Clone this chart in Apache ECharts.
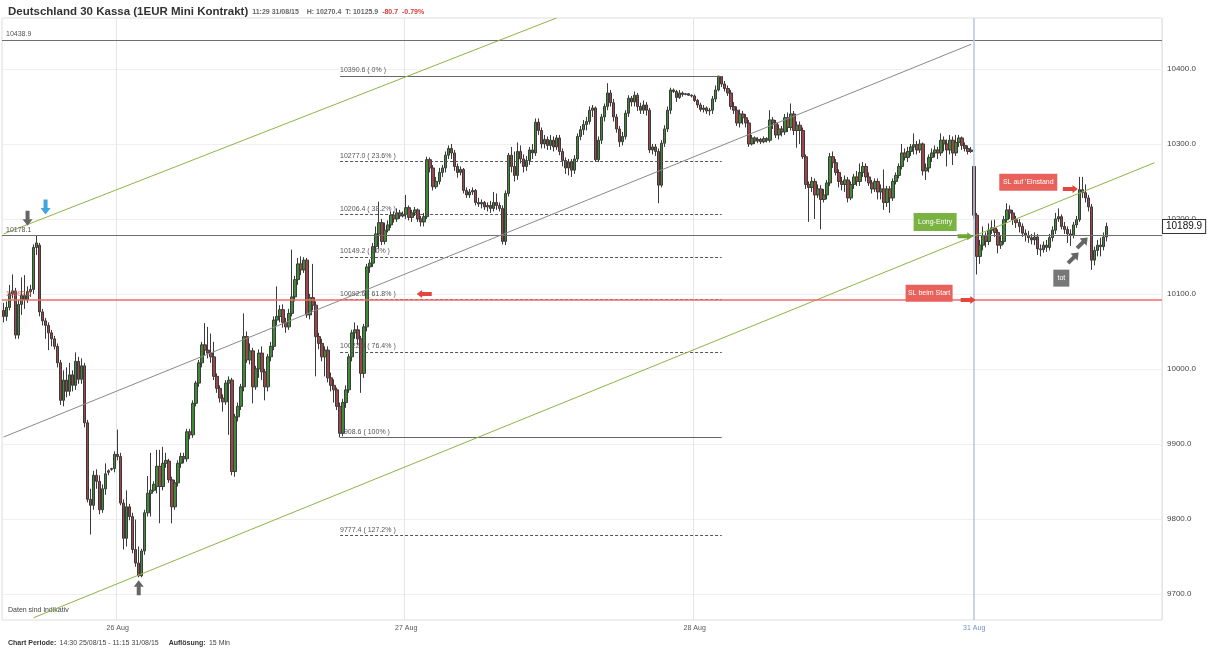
<!DOCTYPE html>
<html><head><meta charset="utf-8">
<script src="https://cdn.jsdelivr.net/npm/echarts@6/dist/echarts.min.js"></script>
<style>html,body{margin:0;padding:0;background:#fff}#c{width:1210px;height:650px}</style>
</head><body><div id="c"></div>
<script>
// [open, close, low, high] per 15-minute candle
const aug25 = [
[10078,10070,10062,10088],[10070,10082,10064,10090],[10082,10100,10078,10112],[10100,10104,10094,10126],[10104,10045,10040,10108],
[10045,10086,10040,10092],[10086,10098,10072,10122],[10098,10092,10080,10125],[10092,10103,10088,10110],[10103,10106,10096,10112],
[10106,10162,10100,10166],[10162,10168,10152,10178.1],[10165,10076,10070,10168],[10076,10064,10058,10080],[10064,10058,10040,10068],
[10058,10048,10025,10062],[10048,10040,10030,10052],[10040,10030,10026,10044],[10030,10008,10002,10034],[10008,9958,9952,10012],
[9958,9985,9950,9998],[9985,9970,9962,10002],[9970,9992,9964,10008],[9992,9978,9970,9998],[9978,10010,9972,10022],
[10010,9986,9980,10016],[9986,10004,9980,10014],[10004,9928,9922,10008],[9928,9826,9822,9932],[9826,9818,9779,9840],
[9818,9858,9812,9864],[9858,9850,9840,9866],[9850,9812,9806,9858],[9812,9840,9808,9846],[9840,9860,9832,9874],
[9862,9864,9858,9866],[9866,9867,9864,9868],[9867,9886,9862,9890]
];
const aug26 = [
[9886,9883,9878,9919],[9883,9821,9818,9888],[9821,9774,9759,9826],[9774,9816,9763,9838],[9816,9803,9798,9820],
[9803,9759,9754,9808],[9759,9741,9736,9799],[9741,9724,9722,9763],[9724,9757,9722,9760],[9757,9808,9752,9812],
[9808,9834,9803,9857],[9834,9838,9803,9888],[9838,9846,9836,9850],[9843,9870,9834,9892],[9870,9843,9794,9892],
[9843,9874,9838,9896],[9874,9878,9868,9888],[9877,9852,9848,9880],[9852,9816,9794,9856],[9816,9848,9812,9852],
[9848,9874,9843,9878],[9874,9883,9868,9888],[9883,9880,9874,9888],[9880,9916,9876,9920],[9916,9912,9906,9920],
[9912,9954,9908,9958],[9954,9981,9950,9984],[9981,10008,9976,10012],[10008,10032,10002,10036],[10032,10025,10018,10061],
[10025,10021,10014,10056],[10021,10016,10008,10047],[10016,9990,9985,10036],[9990,9974,9968,9994],[9974,9961,9955,9978],
[9961,9956,9943,9966],[9956,9981,9952,9985],[9981,9985,9912,9990],[9985,9863,9858,9988],[9863,9936,9856,9940],
[9936,9950,9930,9955],[9950,9976,9945,9980],[9976,10043,9970,10074],[10043,10012,10008,10050],[10012,10024,10006,10034],
[10024,9976,9954,10028],[9976,10000,9972,10004],[10000,10021,9988,10026],[10021,9996,9985,10030],[9996,9976,9958,10000],
[9976,10016,9970,10020],[10016,10030,10010,10036],[10030,10065,10025,10070],[10065,10070,10058,10110],[10070,10079,10062,10085],
[10079,10062,10055,10086],[10062,10056,10048,10068],[10056,10074,10052,10080],[10074,10096,10070,10159],[10096,10119,10090,10124],
[10119,10140,10112,10148],[10140,10132,10125,10150],[10132,10145,10128,10149],[10145,10072,10068,10148],[10072,10095,10066,10100],
[10095,10085,10078,10140],[10085,10043,9990,10090],[10043,10034,10026,10048],[10034,10016,10010,10040],[10016,10025,9990,10030],
[10025,9988,9982,10030],[9988,9978,9970,9995],[9978,9972,9955,9986],[9972,9950,9945,9975],[9950,9914,9908.6,9955],
[9914,9955,9910,9960],[9955,9972,9948,9978],[9972,10016,9968,10020],[10016,10048,10010,10052],[10048,10052,10040,10062],
[10052,10040,10032,10058],[10040,9994,9968,10044],[9994,10056,9988,10060],[10056,10136,10050,10140],[10136,10141,10128,10146],
[10141,10163,10136,10168],[10163,10180,10155,10190],[10180,10195,10160,10223],[10195,10170,10165,10200],[10170,10185,10166,10195],
[10185,10192,10182,10198],[10192,10205,10188,10210],[10205,10200,10195,10210],[10200,10208,10196,10214],[10208,10204,10200,10212],
[10204,10206,10202,10210]
];
const aug27 = [
[10206,10215,10200,10232],[10215,10202,10198,10218],[10202,10208,10196,10212],[10208,10212,10204,10216],[10212,10200,10196,10214],
[10200,10196,10190,10204],[10196,10203,10190,10208],[10203,10279,10200,10283],[10279,10268,10262,10282],[10268,10243,10238,10272],
[10243,10250,10240,10256],[10250,10262,10246,10268],[10262,10268,10256,10272],[10268,10285,10262,10290],[10285,10294,10280,10298],
[10294,10288,10280,10300],[10288,10270,10264,10292],[10270,10262,10255,10274],[10262,10266,10258,10270],[10266,10238,10234,10268],
[10238,10232,10228,10242],[10232,10236,10228,10240],[10236,10238,10232,10242],[10238,10222,10218,10240],[10222,10220,10216,10228],
[10220,10222,10214,10226],[10222,10216,10212,10224],[10216,10218,10210,10222],[10218,10214,10208,10224],[10214,10222,10210,10236],
[10222,10218,10212,10234],[10218,10214,10210,10222],[10214,10170,10166,10218],[10170,10234,10165,10238],[10234,10285,10230,10288],
[10285,10270,10262,10296],[10270,10258,10250,10290],[10258,10290,10252,10302],[10290,10280,10274,10298],[10280,10270,10262,10286],
[10270,10278,10264,10284],[10278,10292,10272,10296],[10292,10288,10280,10300],[10288,10329,10284,10334],[10329,10318,10312,10334],
[10318,10300,10294,10322],[10300,10306,10294,10312],[10306,10298,10292,10310],[10298,10305,10292,10312],[10305,10296,10290,10310],
[10296,10308,10292,10312],[10308,10290,10285,10312],[10290,10278,10270,10294],[10278,10268,10260,10282],[10268,10276,10258,10280],
[10276,10265,10256,10280],[10265,10280,10260,10285],[10280,10310,10276,10314],[10310,10319,10305,10324],[10319,10326,10312,10332],
[10326,10330,10318,10336],[10330,10345,10326,10350],[10345,10348,10336,10352],[10348,10279,10276,10350],[10279,10305,10276,10310],
[10305,10336,10300,10340],[10336,10350,10330,10354],[10350,10368,10345,10381],[10368,10355,10350,10372],[10355,10336,10330,10360],
[10336,10320,10315,10340],[10320,10303,10296,10324],[10303,10310,10298,10316],[10310,10341,10306,10345],[10341,10361,10336,10365],
[10361,10356,10350,10364],[10356,10365,10350,10370],[10365,10350,10344,10368],[10350,10345,10340,10355],[10345,10352,10340,10358],
[10352,10345,10338,10356],[10345,10292,10288,10348],[10292,10296,10286,10300],[10296,10290,10284,10300],[10290,10245,10221,10294],
[10245,10301,10242,10305],[10301,10320,10296,10325],[10320,10345,10316,10350],[10345,10372,10340,10375],[10372,10370,10368,10374],
[10370,10362,10356,10372],[10362,10368,10360,10372],[10368,10366,10363,10370],[10366,10367,10365,10368],[10367,10365,10364,10368],
[10365,10364,10362,10366]
];
const aug28 = [
[10364,10358,10356,10366],[10358,10352,10348,10360],[10352,10346,10343,10355],[10346,10348,10342,10352],[10348,10344,10340,10350],
[10344,10345,10338,10348],[10345,10360,10340,10364],[10360,10372,10356,10378],[10372,10390.6,10370,10390.6],[10390,10380,10376,10390.6],
[10380,10374,10370,10384],[10374,10368,10364,10378],[10368,10350,10346,10372],[10350,10345,10340,10356],[10345,10328,10324,10350],
[10328,10340,10322,10346],[10340,10335,10326,10344],[10335,10328,10322,10340],[10328,10300,10296,10332],[10300,10308,10298,10312],
[10308,10304,10300,10310],[10304,10306,10301,10309],[10306,10303,10300,10308],[10303,10307,10301,10310],[10307,10305,10302,10309],
[10305,10332,10302,10345],[10332,10328,10320,10336],[10328,10312,10308,10332],[10312,10320,10306,10326],[10320,10316,10310,10324],
[10316,10335,10312,10340],[10335,10322,10316,10342],[10322,10340,10318,10354],[10340,10318,10312,10344],[10318,10325,10295,10330],
[10325,10318,10300,10330],[10318,10283,10280,10322],[10283,10246,10240,10286],[10246,10242,10196,10250],[10242,10250,10236,10256],
[10250,10232,10200,10254],[10232,10240,10228,10246],[10240,10226,10186,10245],[10226,10232,10222,10240],[10232,10248,10226,10252],
[10248,10283,10244,10288],[10283,10275,10268,10290],[10275,10262,10258,10280],[10262,10250,10242,10266],[10250,10246,10238,10256],
[10246,10252,10236,10258],[10252,10228,10222,10256],[10228,10246,10225,10250],[10246,10256,10240,10260],[10256,10250,10244,10264],
[10250,10262,10244,10274],[10262,10270,10256,10276],[10270,10256,10250,10274],[10256,10248,10244,10262],[10248,10240,10234,10252],
[10240,10250,10236,10254],[10250,10236,10226,10254],[10236,10240,10226,10246],[10240,10222,10212,10266],[10222,10240,10216,10244],
[10240,10228,10208,10244],[10228,10250,10224,10254],[10250,10258,10246,10262],[10258,10270,10254,10274],[10270,10288,10266,10300],
[10288,10282,10278,10294],[10282,10290,10276,10296],[10290,10296,10284,10300],[10296,10299,10286,10314],[10299,10292,10286,10304],
[10292,10300,10288,10306],[10300,10264,10258,10302],[10264,10268,10252,10274],[10268,10282,10262,10286],[10282,10288,10276,10294],
[10288,10292,10282,10298],[10292,10288,10280,10296],[10288,10305,10284,10314],[10305,10300,10290,10310],[10300,10292,10270,10306],
[10292,10305,10286,10312],[10305,10288,10272,10310],[10288,10302,10284,10312],[10302,10308,10296,10312],[10308,10298,10292,10310],
[10298,10294,10290,10302],[10294,10290,10286,10298],[10290,10292,10288,10296]
];
const aug31 = [
[10270,10205,10200,10270.4],[10205,10150,10125.9,10208],[10150,10165,10140,10172],[10165,10178,10158,10190],[10178,10170,10162,10182],
[10170,10185,10165,10194],[10185,10188,10180,10198],[10188,10182,10176,10199],[10182,10165,10154,10186],[10165,10170,10160,10178],
[10170,10199,10166,10204],[10199,10212,10195,10221],[10212,10208,10200,10218],[10208,10199,10192,10212],[10199,10195,10188,10204],
[10195,10190,10182,10200],[10190,10181,10176,10194],[10181,10178,10170,10186],[10178,10175,10168,10184],[10175,10172,10166,10180],
[10172,10176,10165,10182],[10176,10160,10152,10180],[10160,10159,10150,10166],[10159,10165,10155,10170],[10165,10162,10156,10172],
[10162,10175,10158,10180],[10175,10185,10170,10190],[10185,10200,10180,10208],[10200,10203,10196,10214],[10203,10190,10186,10206],
[10190,10186,10180,10196],[10186,10180,10168,10190],[10180,10178,10164,10186],[10178,10192,10174,10196],[10192,10199,10188,10204],
[10199,10239,10196,10256],[10239,10235,10228,10256],[10235,10228,10222,10246],[10228,10216,10210,10232],[10216,10145,10132,10220],
[10145,10158,10138,10163],[10158,10165,10150,10172],[10165,10163,10150,10175],[10163,10176,10158,10182],[10176,10189.9,10170,10195]
];
const dayLabels = ['26 Aug', '27 Aug', '28 Aug', '31 Aug'];
const emptySlotsRight = 18;
const yMin = 9665, yMax = 10468;

const levelValues = [10438.9, 10178.1];
const stopLevel = 10092.6;
const fibLevels = [10390.6, 10277.0, 10206.4, 10149.2, 10092.6, 10022.4, 9908.6, 9777.4];
const fibPct = ['0%', '23.6%', '38.2%', '50%', '61.8%', '76.4%', '100%', '127.2%'];
const fibFromTo = [112, 239];
// trend lines: [[index, price], [index, price]]
const channelLower = [[10, 9668], [383, 10275]];
const channelUpper = [[0, 10180], [184, 10468]];
const regressionLine = [[0, 9909], [322, 10433]];
const lastPrice = 10189.9;
// annotations anchored at [candle index, price]
const arrowDown = [[8, 10201], [14, 10216]];
const arrowUp = [[45, 9708]];
const arrowLeft = [[140, 10100]];
const arrowRight = [[320, 10177], [321, 10092], [355, 10240]];
const arrowUpRight = [[356, 10148], [359, 10168]];
const boxTexts = ['Long-Entry', 'SL beim Start', "SL auf 'Einstand", 'tot'];
const boxAnchors = [[310, 10196], [308, 10101], [341, 10249], [352, 10121]];

const candles = [].concat(aug25, aug26, aug27, aug28, aug31);
const dayStarts = [];
let acc = aug25.length;
[aug26, aug27, aug28, aug31].forEach(d => { dayStarts.push(acc); acc += d.length; });
const labelAt = {};
dayStarts.forEach((s, k) => { labelAt[s] = dayLabels[k]; });
const lastDayStart = dayStarts[dayStarts.length - 1];
const categories = [];
for (let i = 0; i < candles.length + emptySlotsRight; i++) categories.push(String(i));

const FONT = 'Liberation Sans';
const PATH_DOWN = 'path://M3,0L7,0L7,8L10,8L5,14L0,8L3,8Z';
const PATH_UP = 'path://M3,14L7,14L7,6L10,6L5,0L0,6L3,6Z';
const PATH_RIGHT = 'path://M0,2L9,2L9,0L14,4L9,8L9,6L0,6Z';
const PATH_LEFT = 'path://M14,2L5,2L5,0L0,4L5,8L5,6L14,6Z';

const markLines = [];
levelValues.forEach(v => markLines.push({
  yAxis: v,
  lineStyle: { color: '#6e6e6e', width: 1, type: 'solid' },
  label: { show: true, position: 'insideStartTop', formatter: v.toFixed(1), fontSize: 7, fontFamily: FONT,
           color: '#555', distance: [4, 2] }
}));
fibLevels.forEach((v, k) => {
  const solid = fibPct[k] === '0%' || fibPct[k] === '100%';
  markLines.push([
    { coord: [fibFromTo[0], v],
      lineStyle: { color: solid ? '#666' : '#555', width: 1, type: solid ? 'solid' : [3, 2] },
      label: { show: true, position: 'insideStartTop', formatter: v.toFixed(1) + ' ( ' + fibPct[k] + ' )',
               fontSize: 7, fontFamily: FONT, color: '#555', distance: [0, 2] } },
    { coord: [fibFromTo[1], v] }
  ]);
});
[[channelLower, '#8db446'], [channelUpper, '#8db446'], [regressionLine, '#8a8a8a']].forEach(([seg, col]) => {
  markLines.push([{ coord: seg[0], lineStyle: { color: col, width: 1, type: 'solid' } }, { coord: seg[1] }]);
});
markLines.push({ xAxis: lastDayStart, lineStyle: { color: '#b8c4e2', width: 1.5, type: 'solid' } });
markLines.push({
  yAxis: lastPrice, lineStyle: { color: 'rgba(0,0,0,0)', width: 0 },
  label: { show: true, position: 'end', formatter: lastPrice.toFixed(1), fontSize: 10, fontFamily: FONT, color: '#111',
           backgroundColor: '#fff', borderColor: '#333', borderWidth: 1, padding: [2, 3, 1, 3], distance: 1 }
});

const markPoints = [];
arrowDown.forEach((c, k) => markPoints.push({ coord: c, symbol: PATH_DOWN, symbolSize: [10, 15],
  itemStyle: { color: k === 0 ? '#666' : '#3ea5e0' } }));
arrowUp.forEach(c => markPoints.push({ coord: c, symbol: PATH_UP, symbolSize: [10, 15], itemStyle: { color: '#666' } }));
arrowLeft.forEach(c => markPoints.push({ coord: c, symbol: PATH_LEFT, symbolSize: [15, 8], itemStyle: { color: '#e3463c' } }));
arrowRight.forEach((c, k) => markPoints.push({ coord: c, symbol: PATH_RIGHT, symbolSize: [15, 8],
  itemStyle: { color: k === 0 ? '#6ea534' : '#e3463c' } }));
arrowUpRight.forEach(c => markPoints.push({ coord: c, symbol: PATH_UP, symbolSize: [10, 15], symbolRotate: -45,
  itemStyle: { color: '#666' } }));
const boxSizes = [[43, 18], [47, 17], [58, 17], [16, 17]];
const boxColors = ['#7bb342', '#e8615a', '#e8615a', '#777'];
boxTexts.forEach((t, k) => markPoints.push({ coord: boxAnchors[k], symbol: 'rect', symbolSize: boxSizes[k],
  itemStyle: { color: boxColors[k] },
  label: { show: true, position: 'inside', formatter: t, color: '#fff', fontSize: 7, fontFamily: FONT } }));

const chart = echarts.init(document.getElementById('c'), null, { renderer: 'canvas' });
chart.setOption({
  animation: false,
  backgroundColor: '#fff',
  title: {
    left: 3, top: 1,
    text: '{a|Deutschland 30 Kassa (1EUR Mini Kontrakt)}{b|  11:29 31/08/15    H: 10270.4  T: 10125.9  }{c|-80.7  -0.79%}',
    textStyle: { rich: {
      a: { fontSize: 11.5, fontWeight: 'bold', color: '#333', fontFamily: FONT },
      b: { fontSize: 7, color: '#666', fontFamily: FONT },
      c: { fontSize: 7, color: '#d83a3a', fontWeight: 'bold', fontFamily: FONT }
    } }
  },
  grid: { left: 2, right: 48, top: 18, bottom: 30, show: true, borderColor: '#dcdcdc', borderWidth: 1 },
  xAxis: {
    type: 'category', data: categories, boundaryGap: true,
    axisLine: { show: false }, axisTick: { show: false },
    axisLabel: {
      interval: (i) => labelAt[i] !== undefined,
      formatter: (v) => labelAt[Number(v)] || '',
      color: (v) => Number(v) === lastDayStart ? '#6f8fce' : '#555',
      fontSize: 7, fontFamily: FONT, margin: 5
    },
    splitLine: { show: true, interval: (i) => labelAt[i] !== undefined && i !== lastDayStart,
                 lineStyle: { color: '#e6e6e6', width: 1 } }
  },
  yAxis: {
    type: 'value', position: 'right', min: yMin, max: yMax, splitNumber: 8,
    axisLine: { show: false }, axisTick: { show: false },
    axisLabel: { formatter: (v) => v.toFixed(1), fontSize: 8, fontFamily: FONT, color: '#444', margin: 5,
                 showMinLabel: false, showMaxLabel: false },
    splitLine: { lineStyle: { color: '#efefef' } }
  },
  graphic: [
    { type: 'text', left: 8, top: 607, style: { text: 'Daten sind indikativ', fontSize: 7, fontFamily: FONT, fill: '#444' } },
    { type: 'text', left: 8, top: 637, style: {
        text: '{b|Chart Periode:} {n|14:30 25/08/15 - 11:15 31/08/15}   {b|Auflösung:} {n|15 Min}',
        rich: { b: { fontSize: 7, fontWeight: 'bold', fontFamily: FONT, fill: '#333' },
                n: { fontSize: 7, fontFamily: FONT, fill: '#444' } } } }
  ],
  series: [{
    type: 'candlestick', data: candles, barWidth: 3,
    itemStyle: { color: '#3d8c34', color0: '#a0434a', borderColor: '#3b3b3b', borderColor0: '#3b3b3b', borderWidth: 1 },
    markLine: { silent: true, symbol: ['none', 'none'], animation: false, label: { show: false }, data: markLines },
    markPoint: { silent: true, animation: false, label: { show: false }, data: markPoints }
  }, {
    type: 'line', data: [], z: 5, silent: true, color: '#ef6a6a',
    markLine: { silent: true, symbol: ['none', 'none'], animation: false,
      lineStyle: { color: '#ef6a6a', width: 1.5, type: 'solid' },
      data: [{ yAxis: stopLevel,
               lineStyle: { color: '#ef6a6a', width: 1.5, type: 'solid', opacity: 1 },
               label: { show: true, position: 'insideStartTop', formatter: stopLevel.toFixed(1), fontSize: 7,
                        fontFamily: FONT, color: '#d65050', distance: [4, 2] } }] }
  }]
});
</script></body></html>
